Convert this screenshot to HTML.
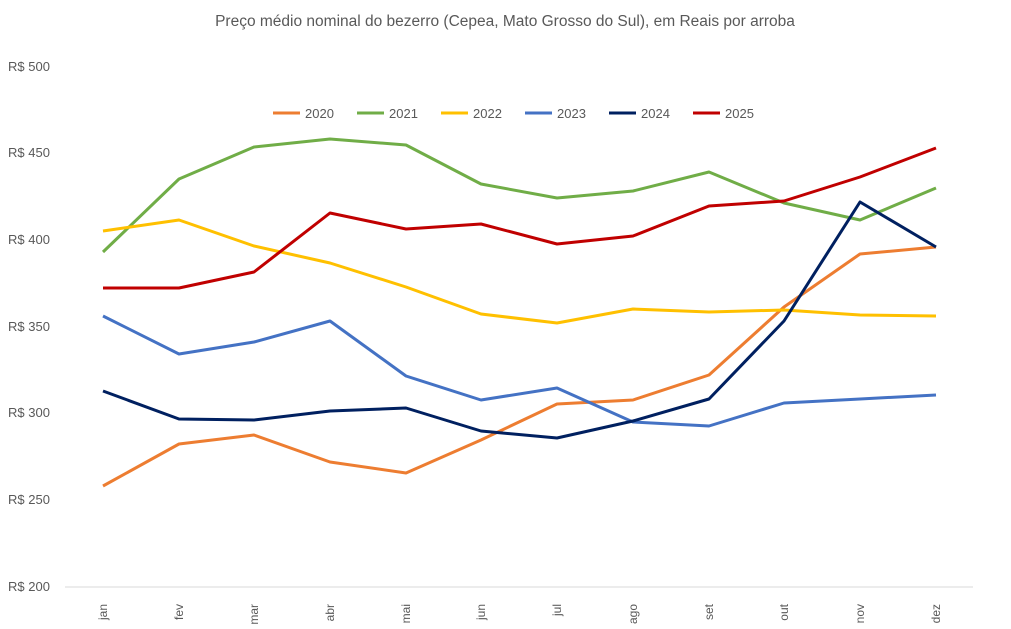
<!DOCTYPE html>
<html><head><meta charset="utf-8"><style>body{margin:0;background:#fff}svg{display:block}text{font-family:"Liberation Sans",sans-serif;fill:#595959}</style></head><body>
<svg width="1011" height="629" viewBox="0 0 1011 629">
<text x="505" y="26" text-anchor="middle" font-size="15.5">Preço médio nominal do bezerro (Cepea, Mato Grosso do Sul), em Reais por arroba</text>
<g font-size="13">
<text x="8" y="71">R$ 500</text><text x="8" y="157">R$ 450</text><text x="8" y="244">R$ 400</text><text x="8" y="331">R$ 350</text><text x="8" y="417">R$ 300</text><text x="8" y="504">R$ 250</text><text x="8" y="591">R$ 200</text>
</g>
<line x1="65" y1="587" x2="973" y2="587" stroke="#d9d9d9"/>
<g font-size="12">
<text transform="translate(107,604) rotate(-90)" text-anchor="end">jan</text>
<text transform="translate(183,604) rotate(-90)" text-anchor="end">fev</text>
<text transform="translate(258,604) rotate(-90)" text-anchor="end">mar</text>
<text transform="translate(334,604) rotate(-90)" text-anchor="end">abr</text>
<text transform="translate(410,604) rotate(-90)" text-anchor="end">mai</text>
<text transform="translate(485,604) rotate(-90)" text-anchor="end">jun</text>
<text transform="translate(561,604) rotate(-90)" text-anchor="end">jul</text>
<text transform="translate(637,604) rotate(-90)" text-anchor="end">ago</text>
<text transform="translate(713,604) rotate(-90)" text-anchor="end">set</text>
<text transform="translate(788,604) rotate(-90)" text-anchor="end">out</text>
<text transform="translate(864,604) rotate(-90)" text-anchor="end">nov</text>
<text transform="translate(940,604) rotate(-90)" text-anchor="end">dez</text>
</g>
<g fill="none" stroke-width="3" stroke-linejoin="round">
<polyline stroke="#ED7D31" points="103,486 179,444 254,435 330,462 406,473 481,440 557,404 633,400 709,375 784,307 860,254 936,247"/>
<polyline stroke="#70AD47" points="103,252 179,179 254,147 330,139 406,145 481,184 557,198 633,191 709,172 784,203 860,220 936,188"/>
<polyline stroke="#FFC000" points="103,231 179,220 254,246 330,263 406,287 481,314 557,323 633,309 709,312 784,310 860,315 936,316"/>
<polyline stroke="#4472C4" points="103,316 179,354 254,342 330,321 406,376 481,400 557,388 633,422 709,426 784,403 860,399 936,395"/>
<polyline stroke="#002060" points="103,391 179,419 254,420 330,411 406,408 481,431 557,438 633,421 709,399 784,321 860,202 936,247"/>
<polyline stroke="#C00000" points="103,288 179,288 254,272 330,213 406,229 481,224 557,244 633,236 709,206 784,201 860,177 936,148"/>
</g>
<g stroke-width="3" font-size="13">
<line x1="273" y1="113" x2="300" y2="113" stroke="#ED7D31"/><text x="305" y="118">2020</text>
<line x1="357" y1="113" x2="384" y2="113" stroke="#70AD47"/><text x="389" y="118">2021</text>
<line x1="441" y1="113" x2="468" y2="113" stroke="#FFC000"/><text x="473" y="118">2022</text>
<line x1="525" y1="113" x2="552" y2="113" stroke="#4472C4"/><text x="557" y="118">2023</text>
<line x1="609" y1="113" x2="636" y2="113" stroke="#002060"/><text x="641" y="118">2024</text>
<line x1="693" y1="113" x2="720" y2="113" stroke="#C00000"/><text x="725" y="118">2025</text>
</g>
</svg>
</body></html>
